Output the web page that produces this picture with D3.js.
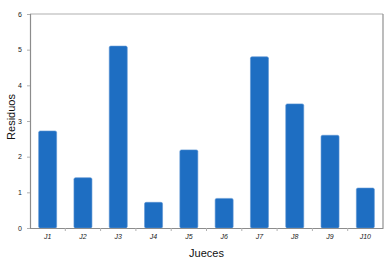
<!DOCTYPE html>
<html>
<head>
<meta charset="utf-8">
<script src="https://cdn.jsdelivr.net/npm/d3@7"></script>
<style>
  body { margin: 0; background: #fff; }
  text { font-family: "Liberation Sans", Arial, sans-serif; }
</style>
</head>
<body>
<div id="chart"></div>
<script>
// residuos por juez
var jueces = ["J1", "J2", "J3", "J4", "J5", "J6", "J7", "J8", "J9", "J10"];
var residuos = [2.72, 1.41, 5.1, 0.72, 2.19, 0.83, 4.8, 3.48, 2.6, 1.12];
var yTicks = [0, 1, 2, 3, 4, 5, 6];

var margin = {top: 14, right: 8, bottom: 35, left: 30},
    width = 391 - margin.left - margin.right,
    height = 263 - margin.top - margin.bottom;

var svg = d3.select("#chart")
  .append("svg")
  .attr("width", 391)
  .attr("height", 263)
  .append("g")
  .attr("transform", "translate(" + margin.left + "," + margin.top + ")");

var x = d3.scaleBand().domain(jueces).range([0, width]).paddingInner(0.49).paddingOuter(0.245);
var y = d3.scaleLinear().domain([0, 6]).range([height, 0]);

// frame top and right
svg.append("line").attr("x1", 0).attr("x2", width).attr("y1", 0).attr("y2", 0)
  .style("stroke", "#b0b0b0").style("stroke-width", 1.2);
svg.append("line").attr("x1", width).attr("x2", width).attr("y1", 0).attr("y2", height)
  .style("stroke", "#909090").style("stroke-width", 1.2);

svg.selectAll(".bar")
  .data(residuos)
  .enter()
  .append("rect")
    .attr("class", "bar")
    .attr("x", function(d, i) { return x(jueces[i]); })
    .attr("y", function(d) { return y(d); })
    .attr("width", x.bandwidth())
    .attr("height", function(d) { return height - y(d); })
    .attr("rx", 1.5)
    .style("fill", "#1e6ec2")
    .style("stroke", "#5a94d4")
    .style("stroke-width", 0.6);

// y axis
var yAxis = svg.append("g")
  .call(d3.axisLeft(y).tickValues(yTicks).tickFormat(d3.format("d")).tickSize(3).tickPadding(5));
yAxis.select(".domain").style("stroke", "#8c8c8c").style("stroke-width", 1.2);
yAxis.selectAll(".tick line").style("stroke", "#b0b0b0");
yAxis.selectAll("text").style("font-size", "7px").style("fill", "#222");

// x axis with ticks at band edges
var xAxis = svg.append("g")
  .attr("transform", "translate(0," + height + ")")
  .call(d3.axisBottom(x).tickSize(0).tickPadding(6));
xAxis.select(".domain").style("stroke", "#8c8c8c").style("stroke-width", 1.2);
xAxis.selectAll("text").style("font-size", "7px").style("font-style", "italic").style("fill", "#222");
svg.selectAll(".sep")
  .data(jueces.slice(1))
  .enter()
  .append("line")
    .attr("x1", function(d) { return x(d) - x.step() * x.paddingInner() / 2; })
    .attr("x2", function(d) { return x(d) - x.step() * x.paddingInner() / 2; })
    .attr("y1", height)
    .attr("y2", height + 3)
    .style("stroke", "#b0b0b0");

svg.append("text")
  .attr("x", width / 2)
  .attr("y", height + 29)
  .style("text-anchor", "middle")
  .style("font-size", "11px")
  .style("fill", "#111")
  .text("Jueces");

svg.append("text")
  .attr("transform", "rotate(-90)")
  .attr("x", -height / 2 + 4)
  .attr("y", -15)
  .style("text-anchor", "middle")
  .style("font-size", "11px")
  .style("fill", "#111")
  .text("Residuos");
</script>
</body>
</html>
